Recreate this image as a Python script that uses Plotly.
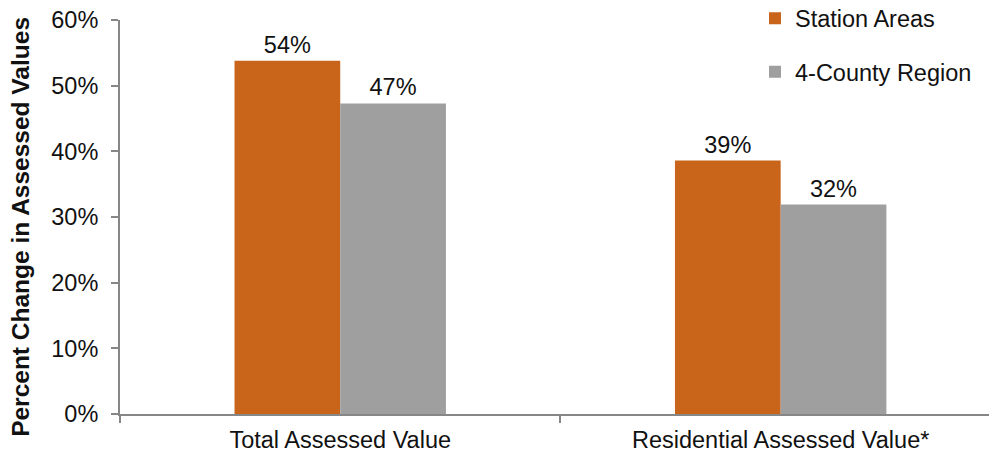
import plotly.graph_objects as go

# Change in assessed values, station areas vs. the wider region
categories = ["Total Assessed Value", "Residential Assessed Value*"]
station_areas = [0.538, 0.386]
county_region = [0.473, 0.319]
series_names = ["Station Areas", "4-County Region"]

ORANGE = "#C8651B"
GRAY = "#9F9F9F"
AXIS = "#878787"
FONT = "Liberation Sans, Arial, sans-serif"
FS = 23.5

fig = go.Figure()
for name, vals, color, grp in [
    (series_names[0], station_areas, ORANGE, "a"),
    (series_names[1], county_region, GRAY, "b"),
]:
    fig.add_trace(go.Bar(
        name=name,
        x=categories,
        y=vals,
        marker=dict(color=color, line=dict(width=0)),
        texttemplate="%{y:.0%}",
        textposition="outside",
        textfont=dict(size=FS, color="#111111", family=FONT),
        cliponaxis=False,
        legendgroup=grp,
    ))

fig.update_layout(
    width=989,
    height=454,
    margin=dict(l=120, r=0, t=20, b=40, autoexpand=False),
    barmode="group",
    bargap=0.52,
    bargroupgap=0,
    plot_bgcolor="white",
    paper_bgcolor="white",
    font=dict(family=FONT, size=FS, color="#111111"),
    showlegend=True,
    legend=dict(
        x=(755 - 120) / 869,
        xanchor="left",
        y=1.06,
        yanchor="top",
        bgcolor="rgba(0,0,0,0)",
        font=dict(size=FS, color="#111111", family=FONT),
        tracegroupgap=20,
        itemwidth=30,
    ),
    xaxis=dict(
        range=[-0.5, 1.473],
        showline=True,
        linecolor=AXIS,
        linewidth=2,
        ticks="outside",
        tickson="boundaries",
        ticklen=7,
        tickcolor=AXIS,
        tickwidth=2,
        showgrid=False,
        tickfont=dict(size=FS, color="#111111"),
        ticklabelstandoff=4,
    ),
    yaxis=dict(
        range=[0, 0.6],
        dtick=0.1,
        tickformat=".0%",
        showline=True,
        linecolor=AXIS,
        linewidth=2,
        ticks="outside",
        ticklen=7,
        tickcolor=AXIS,
        tickwidth=2,
        showgrid=False,
        zeroline=False,
        tickfont=dict(size=FS, color="#111111"),
        ticklabelstandoff=8,
    ),
    annotations=[dict(
        text="<b>Percent Change in Assessed Values</b>",
        xref="paper", yref="paper",
        x=(21 - 120) / 869, y=0.475,
        xanchor="center", yanchor="middle",
        textangle=-90,
        showarrow=False,
        font=dict(size=24.5, color="#111111", family=FONT),
    )],
)

fig.write_html("out.html")
